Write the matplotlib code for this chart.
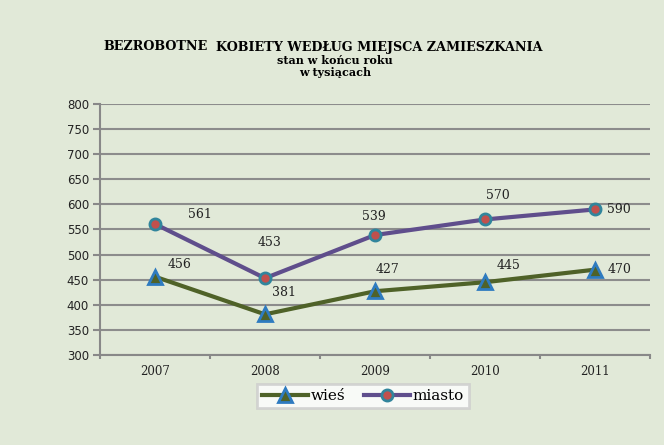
import matplotlib.pyplot as plt

years = ["2007", "2008", "2009", "2010", "2011"]
wies = [456, 381, 427, 445, 470]
miasto = [561, 453, 539, 570, 590]

# label offsets in points (dx, dy)
wies_off = [(18, 9), (14, 16), (9, 16), (17, 12), (18, 0)]
miasto_off = [(32, 7), (3, 26), (-1, 13), (9, 17), (17, 0)]

bg = "#E1E9D8"
fig = plt.figure(figsize=(6.64, 4.45), dpi=100, facecolor=bg)
ax = fig.add_axes([100/664, 1-355/445, 550/664, 251/445])
ax.set_facecolor(bg)

x = list(range(len(years)))
ax.plot(x, wies, color="#4F6228", lw=3, marker="^", ms=10,
        mfc="#4F6228", mec="#2E7BC0", mew=2, label="wieś", zorder=3)
ax.plot(x, miasto, color="#5F4E8C", lw=3, marker="o", ms=8,
        mfc="#C0504D", mec="#31859C", mew=2, label="miasto", zorder=3)

for i in x:
    ax.annotate(str(wies[i]), (i, wies[i]), xytext=wies_off[i], textcoords="offset points",
                ha="center", va="center", fontsize=9, family="DejaVu Serif", color="#222222")
    ax.annotate(str(miasto[i]), (i, miasto[i]), xytext=miasto_off[i], textcoords="offset points",
                ha="center", va="center", fontsize=9, family="DejaVu Serif", color="#222222")

ax.set_xlim(-0.5, 4.5)
ax.set_ylim(300, 800)
ax.set_yticks(range(300, 801, 50))
ax.set_xticks(x)
ax.set_xticklabels(years, family="DejaVu Serif")
ax.set_xticks([i - 0.5 for i in range(6)], minor=True)
ax.tick_params(axis="x", which="major", length=0, pad=7)
ax.tick_params(axis="x", which="minor", length=3, color="#888888", width=1.5)
ax.tick_params(axis="y", length=5, color="#888888", width=1.5, pad=3)
ax.tick_params(labelsize=8.5, labelcolor="#222222")
ax.grid(axis="y", color="#8C8C8C", lw=1.5)
ax.set_axisbelow(True)
for s in ["top", "right"]:
    ax.spines[s].set_visible(False)
for s in ["left", "bottom"]:
    ax.spines[s].set_color("#888888")
    ax.spines[s].set_linewidth(1.5)

# title
fig.text(208/664, 1-47/445, "BEZROBOTNE", ha="right", va="center",
         fontsize=9.2, family="DejaVu Serif", weight="bold")
fig.text(216/664, 1-47/445, "KOBIETY WEDŁUG MIEJSCA ZAMIESZKANIA", ha="left", va="center",
         fontsize=9.2, family="DejaVu Serif", weight="bold")
fig.text(335/664, 1-60/445, "stan w końcu roku", ha="center", va="center",
         fontsize=8, family="DejaVu Serif", weight="bold")
fig.text(335/664, 1-72.5/445, "w tysiącach", ha="center", va="center",
         fontsize=8, family="DejaVu Serif", weight="bold")

leg = fig.legend(loc="center", bbox_to_anchor=(363/664, 1-396/445), ncol=2,
                 frameon=True, fancybox=False, handlelength=3, columnspacing=1.2,
                 handletextpad=0.2, borderpad=0.3, prop={"family": "DejaVu Serif", "size": 11})
leg.get_frame().set_edgecolor("#CCCCCC")
leg.get_frame().set_linewidth(2)

fig.savefig("out.png", dpi=100, facecolor=bg)
